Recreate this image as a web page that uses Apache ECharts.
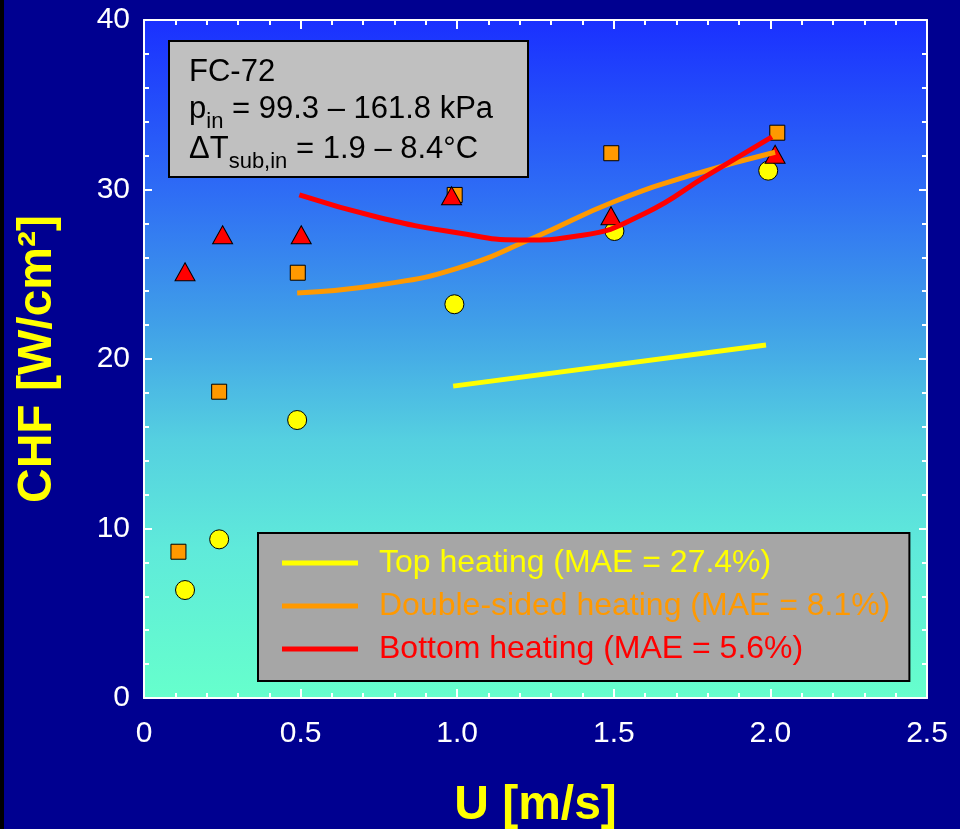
<!DOCTYPE html>
<html>
<head>
<meta charset="utf-8">
<script src="https://cdn.jsdelivr.net/npm/echarts@6/dist/echarts.min.js"></script>
<style>
  html, body { margin: 0; padding: 0; background: #000090; }
  #chart { width: 960px; height: 829px; }
</style>
</head>
<body>
<div id="chart"></div>
<script>
// measured points
const topU = [0.131, 0.240, 0.489, 0.991, 1.502, 1.993]
const topChf = [6.37, 9.36, 16.4, 23.23, 27.55, 31.11]
const dblU = [0.110, 0.240, 0.491, 0.992, 1.492, 2.022]
const dblChf = [8.63, 18.07, 25.09, 29.68, 32.14, 33.35]
const botU = [0.131, 0.251, 0.502, 0.982, 1.491, 2.015]
const botChf = [25.15, 27.33, 27.33, 29.63, 28.45, 32.08]

// correlation curves
const topFitU = [0.987, 1.986]
const topFitChf = [18.4, 20.83]
const dblFitU = [0.489, 0.75, 1.0, 1.25, 1.5, 1.75, 2.015]
const dblFitChf = [23.9, 24.37, 25.35, 27.2, 29.28, 30.86, 32.2]
const botFitU = [0.496, 0.75, 1.0, 1.2, 1.4, 1.6, 1.8, 2.005]
const botFitChf = [29.68, 28.35, 27.45, 27.02, 27.3, 28.6, 30.85, 33.1]

const xTickLabels = ['0', '0.5', '1.0', '1.5', '2.0', '2.5']
const yTickLabels = ['0', '10', '20', '30', '40']

const legendNames = [
  'Top heating (MAE = 27.4%)',
  'Double-sided heating (MAE = 8.1%)',
  'Bottom heating (MAE = 5.6%)'
]
const colors = ['#ffff00', '#ff9900', '#ff0000']

const zip = (a, b) => a.map((v, i) => [v, b[i]])
const FONT = 'Liberation Sans, Arial, sans-serif'

const chart = echarts.init(document.getElementById('chart'))

const tickCommon = {
  axisLine: { show: true, onZero: false, lineStyle: { color: '#fff', width: 2 } },
  axisTick: { show: true, inside: true, length: 9, lineStyle: { color: '#fff', width: 2 } },
  minorTick: { show: true, splitNumber: 5, length: 5, lineStyle: { color: '#fff', width: 2 } },
  splitLine: { show: false }
}
const yTick = { show: true, inside: true, length: 8, lineStyle: { color: '#fff', width: 2 } }

const option = {
  backgroundColor: '#000090',
  animation: false,
  grid: {
    left: 144, right: 33, top: 20, bottom: 131,
    containLabel: false,
    outerBoundsMode: 'none',
    show: true,
    borderWidth: 0,
    backgroundColor: {
      type: 'linear', x: 0, y: 0, x2: 0, y2: 1,
      colorStops: [
        { offset: 0, color: '#1a30ff' },
        { offset: 0.25, color: '#2e6cf5' },
        { offset: 0.45, color: '#40a0e8' },
        { offset: 0.62, color: '#55d0e0' },
        { offset: 0.78, color: '#5feada' },
        { offset: 1, color: '#66ffcc' }
      ]
    }
  },
  xAxis: [{
    type: 'value', min: 0, max: 2.5, interval: 0.5, position: 'bottom',
    ...tickCommon,
    axisLabel: {
      color: '#fff', fontSize: 30, fontFamily: FONT, margin: 21,
      formatter: (v, i) => xTickLabels[i]
    },
    name: 'U [m/s]', nameLocation: 'middle', nameGap: 84,
    nameTextStyle: { color: '#ffff00', fontSize: 48, fontWeight: 'bold', fontFamily: FONT }
  }, {
    type: 'value', min: 0, max: 2.5, interval: 0.5, position: 'top',
    ...tickCommon, axisLabel: { show: false }
  }],
  yAxis: [{
    type: 'value', min: 0, max: 40, interval: 10, position: 'left',
    ...tickCommon, axisTick: yTick,
    axisLabel: {
      color: '#fff', fontSize: 30, fontFamily: FONT, margin: 14,
      formatter: (v, i) => yTickLabels[i]
    },
    name: 'CHF [W/cm²]', nameLocation: 'middle', nameGap: 82,
    nameTextStyle: { color: '#ffff00', fontSize: 48, fontWeight: 'bold', fontFamily: FONT }
  }, {
    type: 'value', min: 0, max: 40, interval: 10, position: 'right',
    ...tickCommon, axisTick: yTick, axisLabel: { show: false }
  }],
  legend: {
    orient: 'vertical',
    left: 258, top: 533,
    padding: [14, 19, 16, 24],
    itemGap: 11,
    itemWidth: 76, itemHeight: 5,
    icon: 'rect',
    backgroundColor: '#a6a6a6',
    borderColor: '#000', borderWidth: 2,
    textStyle: { fontSize: 32, fontFamily: FONT, padding: [0, 0, 0, 16] },
    data: legendNames.map((n, i) => ({ name: n, textStyle: { color: colors[i] } }))
  },
  series: [
    {
      name: 'top-data', type: 'scatter', data: zip(topU, topChf),
      symbol: 'circle', symbolSize: 19, z: 3,
      itemStyle: { color: colors[0], borderColor: '#000', borderWidth: 1, opacity: 1 }
    },
    {
      name: 'dbl-data', type: 'scatter', data: zip(dblU, dblChf),
      symbol: 'rect', symbolSize: 15, z: 4,
      itemStyle: { color: colors[1], borderColor: '#000', borderWidth: 1, opacity: 1 }
    },
    {
      name: 'bot-data', type: 'scatter', data: zip(botU, botChf),
      symbol: 'triangle', symbolSize: [20, 18], z: 5,
      itemStyle: { color: colors[2], borderColor: '#000', borderWidth: 1, opacity: 1 }
    },
    {
      name: legendNames[0], type: 'line', data: zip(topFitU, topFitChf),
      showSymbol: false, symbol: 'none', z: 6,
      itemStyle: { color: colors[0] }, lineStyle: { color: colors[0], width: 5 }
    },
    {
      name: legendNames[1], type: 'line', data: zip(dblFitU, dblFitChf),
      showSymbol: false, symbol: 'none', smooth: 0.5, z: 6,
      itemStyle: { color: colors[1] }, lineStyle: { color: colors[1], width: 5 }
    },
    {
      name: legendNames[2], type: 'line', data: zip(botFitU, botFitChf),
      showSymbol: false, symbol: 'none', smooth: 0.5, z: 7,
      itemStyle: { color: colors[2] }, lineStyle: { color: colors[2], width: 5 }
    }
  ],
  graphic: [
    { type: 'rect', left: 0, top: 0, shape: { width: 4, height: 829 }, style: { fill: '#000' } },
    {
      type: 'group', left: 168, top: 40,
      children: [
        { type: 'rect', shape: { x: 0, y: 0, width: 359, height: 136 }, style: { fill: '#c0c0c0', stroke: '#000', lineWidth: 2 } },
        { type: 'text', x: 20, y: 31, style: { text: 'FC-72', font: '31px ' + FONT, fill: '#000', verticalAlign: 'middle' } },
        {
          type: 'text', x: 20, y: 68,
          style: {
            text: '{a|p}{s|in}{a| = 99.3 – 161.8 kPa}', verticalAlign: 'middle', fill: '#000',
            rich: {
              a: { fontSize: 31, fontFamily: FONT, fill: '#000' },
              s: { fontSize: 22, fontFamily: FONT, fill: '#000', padding: [26, 0, 0, 0] }
            }
          }
        },
        {
          type: 'text', x: 20, y: 108,
          style: {
            text: '{a|ΔT}{s|sub,in}{a| = 1.9 – 8.4°C}', verticalAlign: 'middle', fill: '#000',
            rich: {
              a: { fontSize: 31, fontFamily: FONT, fill: '#000' },
              s: { fontSize: 22, fontFamily: FONT, fill: '#000', padding: [26, 0, 0, 0] }
            }
          }
        }
      ]
    }
  ]
}

chart.setOption(option)
</script>
</body>
</html>
